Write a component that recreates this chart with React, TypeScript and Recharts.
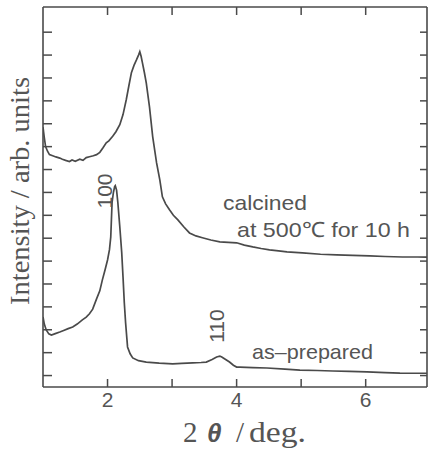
import React from 'react';
import { LineChart, Line, XAxis, YAxis } from 'recharts';

const calcinedX = [1.0, 1.02, 1.04, 1.07, 1.1, 1.15, 1.2, 1.26, 1.3, 1.35, 1.41, 1.45, 1.5, 1.57, 1.62, 1.67, 1.72, 1.78, 1.83, 1.88, 1.93, 1.98, 2.02, 2.08, 2.13, 2.19, 2.24, 2.29, 2.33, 2.37, 2.41, 2.45, 2.48, 2.5, 2.52, 2.54, 2.57, 2.6, 2.65, 2.7, 2.76, 2.81, 2.85, 2.9, 2.96, 3.02, 3.09, 3.18, 3.27, 3.37, 3.47, 3.6, 3.74, 3.87, 4.0, 4.12, 4.25, 4.38, 4.51, 4.65, 4.78, 5.02, 5.3, 5.55, 5.8, 6.06, 6.3, 6.57, 6.8, 6.95];
const calcinedY = [11.35, 10.9, 10.5, 10.3, 10.15, 10.1, 10.05, 10.0, 9.95, 9.9, 9.85, 9.92, 9.86, 9.95, 9.9, 10.02, 10.06, 10.1, 10.15, 10.25, 10.45, 10.67, 10.75, 10.95, 11.15, 11.46, 11.9, 12.55, 13.15, 13.73, 14.05, 14.3, 14.5, 14.65, 14.45, 14.17, 13.75, 13.29, 12.24, 10.93, 9.79, 9.05, 8.31, 8.0, 7.74, 7.5, 7.3, 7.0, 6.73, 6.6, 6.52, 6.42, 6.34, 6.32, 6.3, 6.2, 6.12, 6.05, 5.99, 5.95, 5.9, 5.86, 5.8, 5.77, 5.75, 5.73, 5.7, 5.68, 5.68, 5.67];

const preparedX = [1.0, 1.02, 1.05, 1.09, 1.13, 1.19, 1.26, 1.32, 1.39, 1.46, 1.53, 1.61, 1.67, 1.72, 1.77, 1.83, 1.88, 1.92, 1.96, 2.0, 2.03, 2.05, 2.06, 2.07, 2.09, 2.11, 2.12, 2.14, 2.16, 2.19, 2.22, 2.24, 2.26, 2.28, 2.3, 2.31, 2.35, 2.39, 2.48, 2.6, 2.8, 3.01, 3.15, 3.32, 3.45, 3.53, 3.62, 3.69, 3.74, 3.77, 3.83, 3.89, 3.95, 4.0, 4.05, 4.25, 4.47, 4.75, 4.98, 5.25, 5.49, 5.75, 6.02, 6.3, 6.53, 6.95];
const preparedY = [3.06, 2.75, 2.49, 2.32, 2.27, 2.33, 2.4, 2.47, 2.55, 2.62, 2.75, 2.93, 3.05, 3.2, 3.4, 3.85, 4.2, 4.68, 5.1, 5.55, 6.0, 6.56, 7.3, 8.05, 8.48, 8.75, 8.79, 8.6, 8.05, 7.0, 5.86, 4.8, 3.67, 2.8, 2.1, 1.75, 1.45, 1.27, 1.15, 1.09, 1.04, 1.01, 1.03, 1.05, 1.07, 1.09, 1.2, 1.31, 1.35, 1.31, 1.2, 1.09, 0.95, 0.87, 0.87, 0.85, 0.83, 0.78, 0.74, 0.72, 0.7, 0.68, 0.66, 0.63, 0.61, 0.6];

const xTicks = [2, 3, 4, 5, 6];
const xTickLabels = ['2', '', '4', '', '6'];
const yTicks = [0.5, 1.5, 2.5, 3.5, 4.5, 5.5, 6.5, 7.5, 8.5, 9.5, 10.5, 11.5, 12.5, 13.5, 14.5, 15.5];

const calcinedData = calcinedX.map((x, i) => ({ x, y: calcinedY[i] }));
const preparedData = preparedX.map((x, i) => ({ x, y: preparedY[i] }));

const INK = '#4a4a4a';
const TXT = '#555555';
const SANS = '"Liberation Sans", Arial, sans-serif';
const SERIF = '"Liberation Serif", "Times New Roman", serif';

const BottomTick = (props: any) => {
  const { x, y, payload } = props;
  const label = xTickLabels[xTicks.indexOf(payload.value)] ?? '';
  return (
    <g>
      <line x1={x} x2={x} y1={y} y2={y - 8} stroke={INK} strokeWidth={1.5} />
      <text x={x} y={y + 20} textAnchor="middle" fontFamily={SANS} fontSize={21} fill={TXT}>{label}</text>
    </g>
  );
};
const mkTick = (dx: number, dy: number) => (props: any) => {
  const { x, y } = props;
  return <line x1={x} x2={x + dx} y1={y} y2={y + dy} stroke={INK} strokeWidth={1.5} />;
};
const TopTick = mkTick(0, 8);
const LeftTick = mkTick(9, 0);
const RightTick = mkTick(-7, 0);

const Annotations = () => (
  <svg width={428} height={450} style={{ position: 'absolute', left: 0, top: 0, pointerEvents: 'none' }}>
    <text x={223} y={210} fontFamily={SANS} fontSize={21} fill={TXT} textLength={84} lengthAdjust="spacingAndGlyphs">calcined</text>
    <text x={237} y={237} fontFamily={SANS} fontSize={21} fill={TXT} textLength={173} lengthAdjust="spacingAndGlyphs">at 500℃ for 10 h</text>
    <text x={252} y={359} fontFamily={SANS} fontSize={21} fill={TXT} textLength={121} lengthAdjust="spacingAndGlyphs">as–prepared</text>
    <text x={104} y={191} transform="rotate(-90, 104, 191)" dy={7.5} textAnchor="middle" fontFamily={SANS} fontSize={21} fill={TXT}>100</text>
    <text x={216} y={326} transform="rotate(-90, 216, 326)" dy={7.5} textAnchor="middle" fontFamily={SANS} fontSize={21} fill={TXT}>110</text>
    <text x={20} y={191} transform="rotate(-90, 20, 191)" dy={9} textAnchor="middle" fontFamily={SERIF} fontSize={28} fill={TXT} textLength={228} lengthAdjust="spacingAndGlyphs">Intensity / arb. units</text>
    <text x={183} y={442} fontFamily={SERIF} fontSize={29} fill={TXT}>2</text>
    <text x={207} y={442} fontFamily={SANS} fontSize={26} fontWeight="bold" fontStyle="italic" fill={TXT}>θ</text>
    <text x={236} y={442} fontFamily={SERIF} fontSize={29} fill={TXT}>/</text>
    <text x={249} y={442} fontFamily={SERIF} fontSize={29} fill={TXT} textLength={57} lengthAdjust="spacingAndGlyphs">deg.</text>
  </svg>
);

export default function App() {
  return (
    <div style={{ position: 'absolute', left: 0, top: 0, width: 428, height: 450, background: '#fff' }}>
      <LineChart width={428} height={450} margin={{ top: 6, right: 0, bottom: 33, left: 42 }}>
        <XAxis xAxisId="bottom" dataKey="x" type="number" domain={[1, 6.95]} allowDataOverflow ticks={xTicks} interval={0} height={30} tickSize={0} tickMargin={0} tick={BottomTick} tickLine={false} axisLine={{ stroke: INK, strokeWidth: 1.6 }} />
        <XAxis xAxisId="top" orientation="top" dataKey="x" type="number" domain={[1, 6.95]} allowDataOverflow ticks={xTicks} interval={0} height={1} tickSize={0} tickMargin={0} tick={TopTick} tickLine={false} axisLine={{ stroke: INK, strokeWidth: 1.6 }} />
        <YAxis yAxisId="left" type="number" domain={[0, 16.6]} allowDataOverflow ticks={yTicks} interval={0} width={1} tickSize={0} tickMargin={0} tick={LeftTick} tickLine={false} axisLine={{ stroke: INK, strokeWidth: 1.6 }} />
        <YAxis yAxisId="right" orientation="right" type="number" domain={[0, 16.6]} allowDataOverflow ticks={yTicks} interval={0} width={1} tickSize={0} tickMargin={0} tick={RightTick} tickLine={false} axisLine={{ stroke: INK, strokeWidth: 1.6 }} />
        <Line xAxisId="bottom" yAxisId="left" data={calcinedData} dataKey="y" type="linear" stroke={INK} strokeWidth={1.7} dot={false} isAnimationActive={false} />
        <Line xAxisId="bottom" yAxisId="left" data={preparedData} dataKey="y" type="linear" stroke={INK} strokeWidth={1.7} dot={false} isAnimationActive={false} />
      </LineChart>
      <Annotations />
    </div>
  );
}
